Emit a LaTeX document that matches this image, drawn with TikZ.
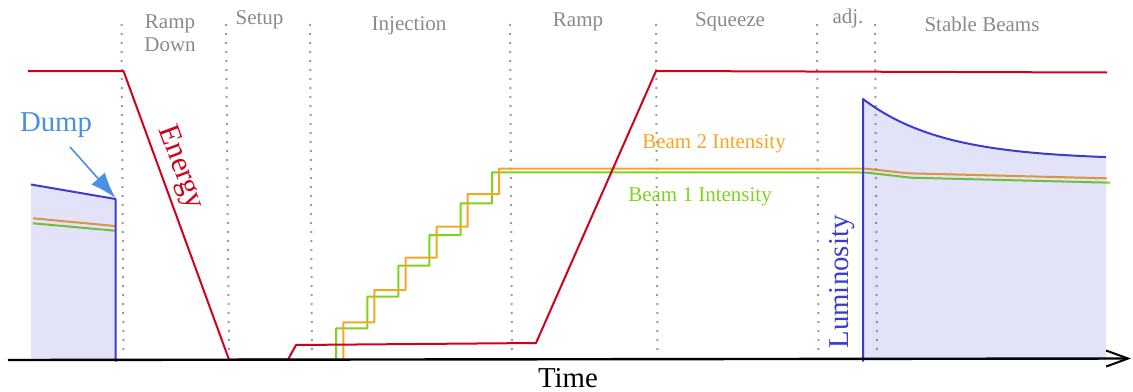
\documentclass[tikz,border=0pt]{standalone}
\usepackage{fontspec}
\setmainfont{Liberation Serif}
\usetikzlibrary{arrows.meta}
\definecolor{energyred}{HTML}{D0021B}
\definecolor{beamorange}{HTML}{F5A623}
\definecolor{beamgreen}{HTML}{7ED321}
\definecolor{lumiblue}{HTML}{3B3BD0}
\definecolor{dumpblue}{HTML}{4A90E2}
\definecolor{phasegray}{HTML}{8A8A8A}
\begin{document}
\begin{tikzpicture}[x=0.5pt,y=-0.5pt,line join=round,
  phase/.style={text=phasegray,font=\fontsize{10.5}{11.5}\selectfont,anchor=base,inner sep=0pt,align=center},
  biglabel/.style={font=\fontsize{14.4}{16}\selectfont,inner sep=0pt},
  beamlabel/.style={font=\fontsize{10.5}{12}\selectfont,anchor=base,inner sep=0pt},
  divider/.style={phasegray!85,line width=1pt,dash pattern=on 1pt off 3.5pt},
  energyline/.style={energyred,line width=1pt},
  beamtwo/.style={beamorange,line width=1pt},
  beamone/.style={beamgreen,line width=1pt},
  lumiline/.style={lumiblue,line width=1pt},
  lumiarea/.style={fill=lumiblue,fill opacity=0.15},
  timeaxis/.style={black,line width=1.2pt,-{Straight Barb[length=11pt,width=8pt,line width=1pt]}},
  dumparrow/.style={dumpblue,line width=0.8pt,-{Latex[length=13pt,width=9pt]}}]
\useasboundingbox (0,0) rectangle (1133,391);

% phase boundaries
\foreach \a/\b in {121.5/123.5,226/229,310/312,510/512,656/657.5,817/818.5,875/877}
  \draw[divider] (\a,24) -- (\b,357);

% phase names
\node[phase,anchor=center] (rampdown) at (170,33) {Ramp\\Down};
\node[phase] (setup) at (259.5,25) {Setup};
\node[phase] (injection) at (409,30) {Injection};
\node[phase] (ramp) at (578,26) {Ramp};
\node[phase] (squeeze) at (730,26) {Squeeze};
\node[phase] (adjust) at (848,23) {adj.};
\node[phase] (stable) at (982,32) {Stable Beams};

% beam intensities
\draw[beamone] (336,360) -- (336,328.3) -- (367.3,328.3) -- (367.3,296.7) -- (398.3,296.7)
  -- (398.3,265.7) -- (429.3,265.7) -- (429.3,235) -- (460.7,235) -- (460.7,203.3)
  -- (492,203.3) -- (492,172.3) -- (866,172.5) -- (911,177.7) -- (1110,182.7);
\draw[beamtwo] (343.3,360) -- (343.3,322.3) -- (374.3,322.3) -- (374.3,290) -- (405.7,290)
  -- (405.7,257.7) -- (436.7,257.7) -- (436.7,226.7) -- (467.7,226.7) -- (467.7,194)
  -- (499,194) -- (499,168.7) -- (866,168.7) -- (908,173.3) -- (1107,178.3);
\draw[beamtwo] (33,218.3) -- (115,226);
\draw[beamone] (33,223.3) -- (115,230.7);

% luminosity before the dump
\fill[lumiarea] (31,360) -- (31,184.5) -- (115.5,199) -- (115.5,360) -- cycle;
\coordinate (dumphead) at (115.5,198);
\draw[lumiline] (31,184.5) -- (115.5,199) -- (115.5,361.5);

% luminosity in stable beams
\fill[lumiarea] (863,360) -- (863,99)
  -- plot[domain=863:1106,samples=60] (\x,{160-61*exp(-(\x-863)/80)}) -- (1106,360) -- cycle;
\draw[lumiline] (863,361.5) -- (863,99)
  -- plot[domain=863:1106,samples=60] (\x,{160-61*exp(-(\x-863)/80)});

% energy
\draw[energyline] (28,71) -- (123.5,71) -- (229,359.6) -- (288,359.6) -- (296,345)
  -- (536,343) -- (656,71) -- (1107,72.5);

% time axis
\coordinate (axisstart) at (8,360);
\coordinate (axisend) at (1131,358.5);
\draw[timeaxis] (axisstart) -- (axisend);

% labels
\node[biglabel,anchor=base] (time) at (568,387) {Time};
\node[biglabel,anchor=base,text=dumpblue] (dump) at (56,131) {Dump};
\coordinate (dumptail) at (70,147);
\draw[dumparrow] (dumptail) -- (dumphead);
\node[biglabel,text=energyred,rotate=-69.7,font=\fontsize{15.2}{17}\selectfont] (energy) at (180,168) {Energy};
\node[biglabel,anchor=base,text=lumiblue,rotate=90] (lumi) at (848,282) {Luminosity};
\node[beamlabel,text=beamorange] (beam2) at (714,148) {Beam 2 Intensity};
\node[beamlabel,text=beamgreen] (beam1) at (700,201.5) {Beam 1 Intensity};
\end{tikzpicture}
\end{document}
